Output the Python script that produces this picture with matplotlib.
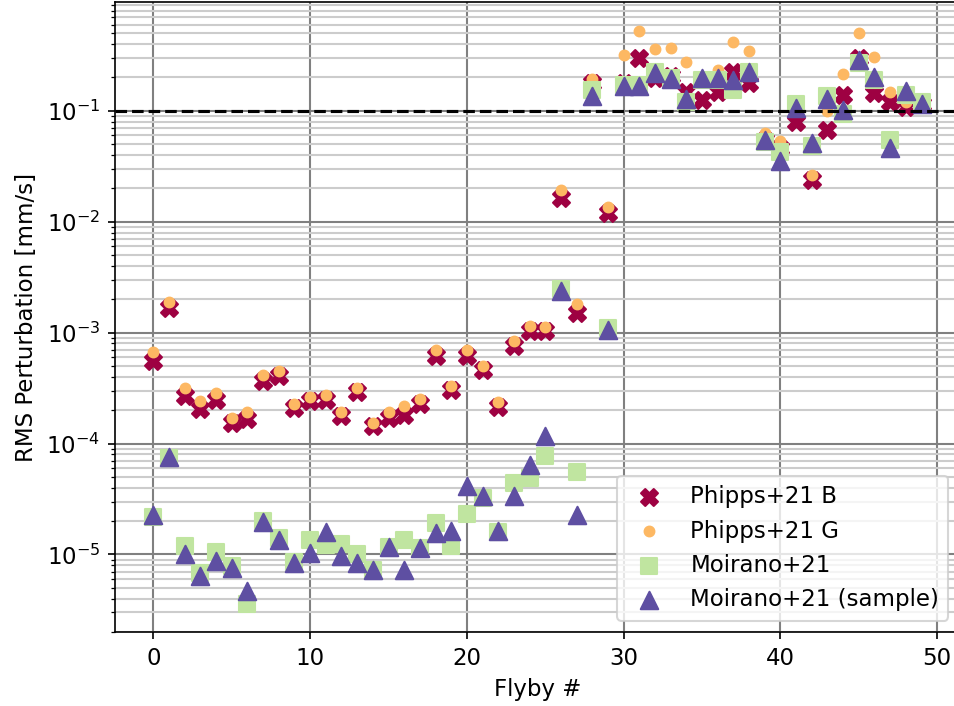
import numpy as np
import matplotlib
matplotlib.use("Agg")
import matplotlib.pyplot as plt

plt.rcParams['font.size'] = 11

# values (mm/s), flyby index 0..49
flyby = np.arange(50)

phipps_b = [5.5e-4, 1.67e-3, 2.7e-4, 2.05e-4, 2.49e-4, 1.53e-4, 1.67e-4, 3.7e-4, 4.04e-4, 2.1e-4,
            2.4e-4, 2.49e-4, 1.76e-4, 2.92e-4, 1.45e-4, 1.7e-4, 1.82e-4, 2.29e-4, 6.1e-4, 3.06e-4,
            6.2e-4, 4.58e-4, 2.14e-4, 7.53e-4, 1.03e-3, 1.03e-3, 1.64e-2, 1.5e-3, 0.178, 0.012,
            0.177, 0.298, 0.196, 0.205, 0.148, 0.126, 0.149, 0.226, 0.178, 0.0548,
            0.046, 0.08, 0.0239, 0.0675, 0.139, 0.298, 0.144, 0.121, 0.109, 0.115]

phipps_g = [6.65e-4, 1.89e-3, 3.2e-4, 2.4e-4, 2.88e-4, 1.7e-4, 1.91e-4, 4.18e-4, 4.55e-4, 2.29e-4,
            2.61e-4, 2.72e-4, 1.91e-4, 3.2e-4, 1.53e-4, 1.93e-4, 2.17e-4, 2.52e-4, 6.93e-4, 3.33e-4,
            7.0e-4, 5.05e-4, 2.38e-4, 8.35e-4, 1.14e-3, 1.12e-3, 1.94e-2, 1.81e-3, 0.194, 0.0137,
            0.32, 0.525, 0.36, 0.372, 0.274, 0.2, 0.234, 0.416, 0.347, 0.0638,
            0.0531, 0.099, 0.0265, 0.1, 0.214, 0.5, 0.308, 0.147, 0.12, 0.125]

moirano = [2.2e-5, 7.4e-5, 1.2e-5, 6.8e-6, 1.05e-5, 7.9e-6, 3.55e-6, 2.0e-5, 1.4e-5, 8.5e-6,
           1.36e-5, 1.23e-5, 1.25e-5, 1.0e-5, 7.2e-6, 1.17e-5, 1.36e-5, 1.15e-5, 1.93e-5, 1.19e-5,
           2.34e-5, 3.2e-5, 1.58e-5, 4.43e-5, 4.9e-5, 7.7e-5, 2.5e-3, 5.5e-5, 0.155, 1.1e-3,
           0.17, 0.17, 0.222, 0.196, 0.12, 0.19, 0.19, 0.154, 0.222, 0.052,
           0.0427, 0.115, 0.048, 0.135, 0.093, 0.27, 0.19, 0.0548, 0.14, 0.121]

moirano_sample = [2.29e-5, 7.58e-5, 1.0e-5, 6.4e-6, 8.7e-6, 7.5e-6, 4.7e-6, 1.96e-5, 1.36e-5, 8.4e-6,
                  1.03e-5, 1.59e-5, 9.7e-6, 8.3e-6, 7.3e-6, 1.17e-5, 7.2e-6, 1.15e-5, 1.57e-5, 1.62e-5,
                  4.12e-5, 3.35e-5, 1.62e-5, 3.35e-5, 6.46e-5, 1.18e-4, 2.36e-3, 2.29e-5, 0.136, 1.06e-3,
                  0.166, 0.167, 0.219, 0.192, 0.129, 0.196, 0.196, 0.19, 0.224, 0.0544,
                  0.0356, 0.106, 0.0512, 0.129, 0.102, 0.286, 0.2, 0.046, 0.151, 0.116]

threshold = 0.1

fig = plt.figure(figsize=(6.36, 4.707), dpi=150)
ax = fig.add_axes([0.1205, 0.1048, 0.8857, 0.8924])

ax.scatter(flyby, phipps_b, marker='X', s=66, color='#9e0142', label='Phipps+21 B', zorder=3)
ax.scatter(flyby, phipps_g, marker='o', s=22, color='#fdb863', label='Phipps+21 G', zorder=3)
ax.scatter(flyby, moirano, marker='s', s=66, color='#c0e5a0', label='Moirano+21', zorder=3)
ax.scatter(flyby, moirano_sample, marker='^', s=70, color='#5e4fa2', label='Moirano+21 (sample)', zorder=3)

ax.axhline(threshold, color='k', ls='--', lw=1.5, zorder=4)

ax.set_yscale('log')
ax.set_xlim(-2.45, 51.45)
ax.set_ylim(2.0e-6, 0.96)
ax.set_axisbelow(True)
ax.grid(True, which='major', color='0.5', lw=1.0)
ax.grid(True, which='minor', axis='y', color='0.8', lw=1.0)

ax.set_xlabel('Flyby #')
ax.set_ylabel('RMS Perturbation [mm/s]')
ax.legend(loc='lower right')

fig.savefig('out.png', dpi=150)
